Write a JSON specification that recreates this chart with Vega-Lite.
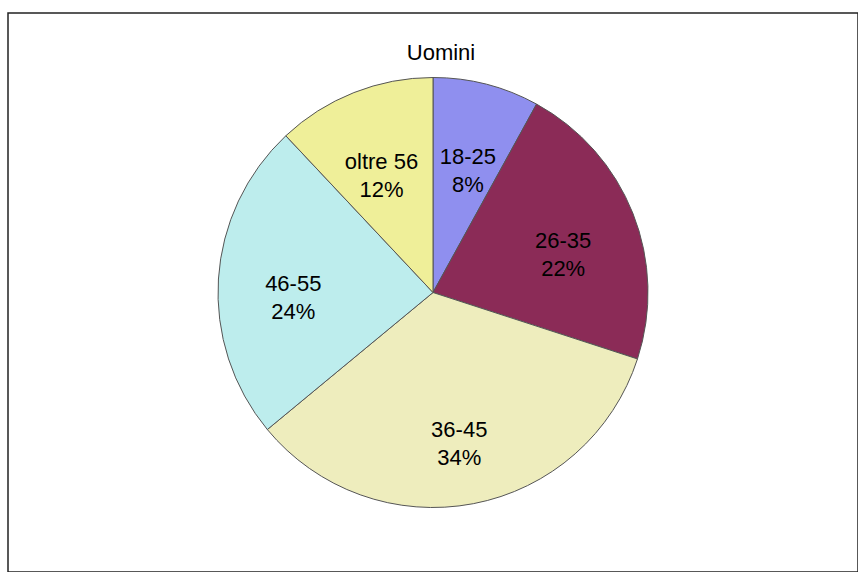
{
  "$schema": "https://vega.github.io/schema/vega-lite/v6.json",
  "autosize": "none",
  "width": 850,
  "height": 559,
  "padding": {"left": 8, "top": 13, "right": 0, "bottom": 0},
  "background": "white",
  "view": {"stroke": "#222222", "strokeWidth": 1.5, "fill": "white"},
  "title": {"text": "Uomini", "orient": "top", "anchor": "middle", "frame": "group", "offset": -52, "dx": 8, "font": "Liberation Sans", "fontSize": 22, "fontWeight": "normal", "color": "#000000"},
  "data": {"values": [
    {"fascia": "18-25", "perc": 8},
    {"fascia": "26-35", "perc": 22},
    {"fascia": "36-45", "perc": 34},
    {"fascia": "46-55", "perc": 24},
    {"fascia": "oltre 56", "perc": 12}
  ]},
  "transform": [{"calculate": "datum.fascia + '\\n' + datum.perc + '%'", "as": "etichetta"}],
  "encoding": {
    "theta": {"field": "perc", "type": "quantitative", "stack": true},
    "color": {"field": "fascia", "type": "nominal", "legend": null,
      "scale": {"domain": ["18-25", "26-35", "36-45", "46-55", "oltre 56"],
                "range": ["#8F8FEF", "#8B2B57", "#EEEDBD", "#BDEDED", "#EFEF99"]}}
  },
  "layer": [
    {"mark": {"type": "arc", "radius": 215, "stroke": "#555555", "strokeWidth": 1}},
    {"mark": {"type": "text", "radius": 140, "font": "Liberation Sans", "fontSize": 22, "lineBreak": "\n", "lineHeight": 28, "color": "#000000"},
     "encoding": {"text": {"field": "etichetta"}, "color": {"value": "#000000"}}}
  ]
}
